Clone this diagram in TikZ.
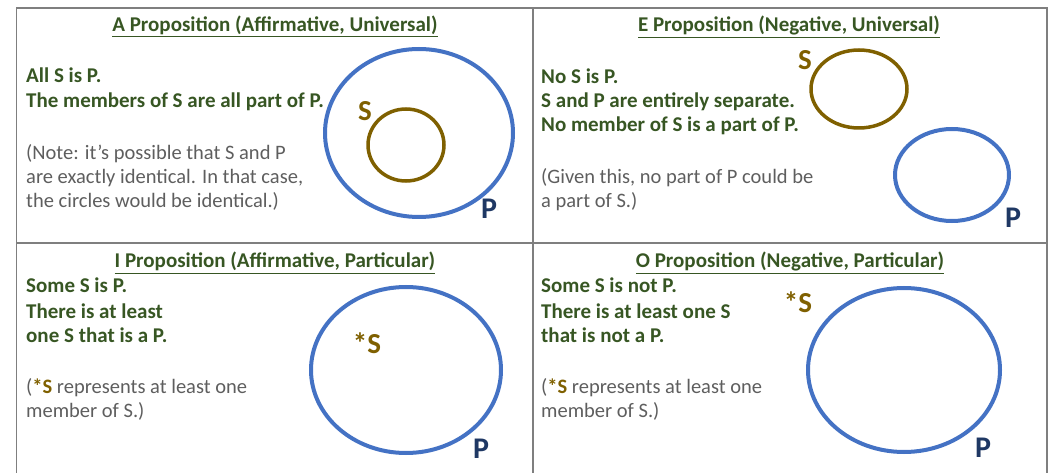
\documentclass[tikz,border=0pt]{standalone}
\usepackage{fontspec}
\setmainfont{Carlito}
\definecolor{txtgreen}{HTML}{375623}
\definecolor{txtgrey}{HTML}{5E5E5E}
\definecolor{sgold}{HTML}{7F6000}
\definecolor{pblue}{HTML}{4472C4}
\definecolor{plabel}{HTML}{1F3864}
\definecolor{frame}{HTML}{7F7F7F}
\begin{document}
\begin{tikzpicture}[x=1pt,y=-1pt,
  framel/.style={draw=frame,line width=1.8pt},
  title/.style={font=\fontsize{21}{24}\selectfont\bfseries,text=txtgreen,inner sep=0pt,anchor=base},
  boldtxt/.style={font=\fontsize{21}{25}\selectfont\bfseries,text=txtgreen,inner sep=0pt,anchor=base west},
  greytxt/.style={font=\fontsize{20.5}{24}\selectfont,text=txtgrey,inner sep=0pt,anchor=base west},
  scirc/.style={draw=sgold,line width=3.5pt},
  pcirc/.style={draw=pblue,line width=4pt},
  slabel/.style={font=\fontsize{29}{29}\selectfont\bfseries,text=sgold,inner sep=0pt},
  plab/.style={font=\fontsize{30}{30}\selectfont\bfseries,text=plabel,inner sep=0pt}]
\useasboundingbox (0,0) rectangle (1058,473);
% frame
\coordinate (tl) at (16.5,8);
\coordinate (tr) at (1047,8);
\coordinate (bl) at (16.5,480);
\coordinate (br) at (1047,480);
\coordinate (mt) at (533,8);
\coordinate (mb) at (533,480);
\coordinate (ml) at (16.5,243);
\coordinate (mr) at (1047,243);
\draw[framel] (bl) -- (tl) -- (tr) -- (br);
\draw[framel] (mt) -- (mb);
\draw[framel] (ml) -- (mr);
% A
\node[title] (tA) at (275,32) {\underline{A Proposition (Affirmative, Universal)}};
\node[boldtxt] (bA1) at (26,83) {All S is P.};
\node[boldtxt] (bA2) at (26,108) {The members of S are all part of P.};
\node[greytxt] (gA1) at (26,160) {(Note: it’s possible that S and P};
\node[greytxt] (gA2) at (26,184) {are exactly identical. In that case,};
\node[greytxt] (gA3) at (26,208) {the circles would be identical.)};
\draw[pcirc] (419,133) ellipse [x radius=94, y radius=84];
\draw[scirc] (406,145) ellipse [x radius=38, y radius=36];
\node[slabel] (sA) at (365,111) {S};
\node[plab] (pA) at (489,209) {P};
% E
\node[title] (tE) at (789,32) {\underline{E Proposition (Negative, Universal)}};
\node[boldtxt] (bE1) at (541,84) {No S is P.};
\node[boldtxt] (bE2) at (541,108) {S and P are entirely separate.};
\node[boldtxt] (bE3) at (541,132) {No member of S is a part of P.};
\node[greytxt] (gE1) at (541,184) {(Given this, no part of P could be};
\node[greytxt] (gE2) at (541,208) {a part of S.)};
\draw[scirc] (859,89) ellipse [x radius=48, y radius=39];
\draw[pcirc] (952,175) ellipse [x radius=57, y radius=46];
\node[slabel] (sE) at (805,60) {S};
\node[plab] (pE) at (1013,218) {P};
% I
\node[title] (tI) at (275,268) {\underline{I Proposition (Affirmative, Particular)}};
\node[boldtxt] (bI1) at (26,293) {Some S is P.};
\node[boldtxt] (bI2) at (26,318) {There is at least};
\node[boldtxt] (bI3) at (26,342) {one S that is a P.};
\node[greytxt] (gI1) at (26,393) {(\textbf{\color{sgold}*S} represents at least one};
\node[greytxt] (gI2) at (26,417) {member of S.)};
\draw[pcirc] (406,370) ellipse [x radius=95, y radius=83];
\node[slabel] (sI) at (367,343) {*S};
\node[plab] (pI) at (481,449) {P};
% O
\node[title] (tO) at (790,268) {\underline{O Proposition (Negative, Particular)}};
\node[boldtxt] (bO1) at (541,293) {Some S is not P.};
\node[boldtxt] (bO2) at (541,318) {There is at least one S};
\node[boldtxt] (bO3) at (541,342) {that is not a P.};
\node[greytxt] (gO1) at (541,393) {(\textbf{\color{sgold}*S} represents at least one};
\node[greytxt] (gO2) at (541,417) {member of S.)};
\draw[pcirc] (904,370) ellipse [x radius=96, y radius=82];
\node[slabel] (sO) at (798,302) {*S};
\node[plab] (pO) at (983,448) {P};
\end{tikzpicture}
\end{document}
